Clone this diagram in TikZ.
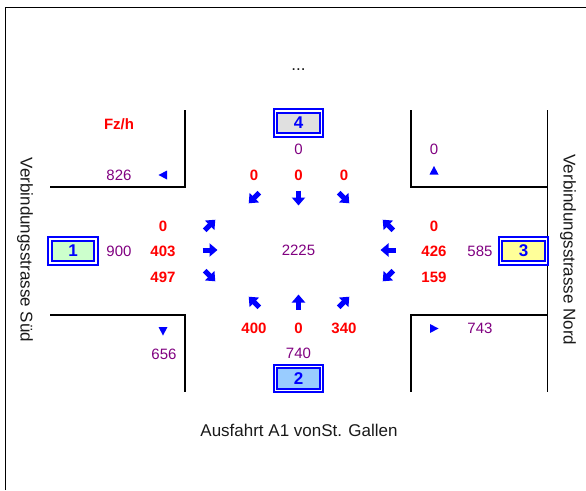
\documentclass[tikz,border=0pt]{standalone}
\usepackage{fontspec}
\setmainfont{Liberation Sans}
\usetikzlibrary{arrows.meta}

\definecolor{volume}{RGB}{128,0,128}
\definecolor{armgray}{RGB}{224,224,224}
\definecolor{armblue}{RGB}{153,204,255}
\definecolor{armgreen}{RGB}{204,255,204}
\definecolor{armyellow}{RGB}{255,255,153}

\begin{document}
\begin{tikzpicture}[x=1pt,y=-1pt,
  every node/.style={font=\fontsize{15}{18}\selectfont, inner sep=0pt},
  flow/.style={text=red, font=\fontsize{15}{18}\selectfont\bfseries},
  total/.style={text=volume},
  street/.style={text=black!90, font=\fontsize{17}{20}\selectfont},
  arm/.style={draw=blue, double=white, line width=2pt, double distance=1.5pt,
    minimum width=46pt, minimum height=24pt, text=blue,
    font=\fontsize{17}{20}\selectfont\bfseries},
  kerb/.style={line width=2pt},
  turn/.style={blue, line width=5pt, -{Triangle[length=8pt,width=13pt]}}]

  \useasboundingbox (0,0) rectangle (586,490);

  % Frame
  \draw[line width=1pt] (5.5,490) -- (5.5,7.5) -- (586,7.5);

  % Kerbs of the crossing
  \draw[kerb] (50,187) -- (185,187) -- (185,110);
  \draw[kerb] (547,187) -- (411,187) -- (411,110);
  \draw[kerb] (50,315) -- (185,315) -- (185,392);
  \draw[kerb] (547,315) -- (411,315) -- (411,392);
  \draw[line width=1pt] (547,110) -- (547,392);

  % Arms
  \node[arm, fill=armgray] (arm4) at (298.5,123) {4};
  \node[arm, fill=armblue] (arm2) at (298.5,378.5) {2};
  \node[arm, fill=armgreen] (arm1) at (73,251) {1};
  \node[arm, fill=armyellow] (arm3) at (523.5,251) {3};

  % Street names
  \node[street, rotate=-90] (sued) at (25,250) {Verbindungsstrasse Süd};
  \node[street, rotate=-90] (nord) at (568,250) {Verbindungsstrasse Nord};
  \node[street] (ausfahrt) at (299,430) {Ausfahrt A1 vonSt. Gallen};
  \node[street] (dots) at (298.5,70) {...};
  \node[flow] (unit) at (119,124) {Fz/h};

  % Arm volumes
  \node[total] (in4) at (298.5,149) {0};
  \node[total] (in2) at (298.5,353) {740};
  \node[total] (in1) at (119,251) {900};
  \node[total] (in3) at (480,251) {585};
  \node[total] (out1) at (119,175) {826};
  \node[total] (out4) at (434,149) {0};
  \node[total] (out2) at (164,354) {656};
  \node[total] (out3) at (480,328) {743};
  \node[total] (sum) at (298.5,250) {2225};

  % Turning flows
  \node[flow] (t4r) at (254,175) {0};
  \node[flow] (t4s) at (298.5,175) {0};
  \node[flow] (t4l) at (344,175) {0};
  \node[flow] (t2l) at (254,328) {400};
  \node[flow] (t2s) at (298.5,328) {0};
  \node[flow] (t2r) at (344,328) {340};
  \node[flow] (t1l) at (163,226) {0};
  \node[flow] (t1s) at (163,251) {403};
  \node[flow] (t1r) at (163,277) {497};
  \node[flow] (t3r) at (434,226) {0};
  \node[flow] (t3s) at (434,251) {426};
  \node[flow] (t3l) at (434,277) {159};

  % Turning arrows
  \foreach \x/\y/\a in {254/198/-135, 298.5/198/-90, 344/198/-45,
                        210/225/45, 210/250/0, 210/276/-45,
                        388/225/135, 388/250/180, 388/276/-135,
                        254/302/135, 298.5/302/90, 344/302/45}
    \draw[turn, shift={(\x,\y)}, rotate=\a] (-7.5,0) -- (7.5,0);

  % Direction marks of the outgoing volumes
  \foreach \x/\y/\a in {163/175/180, 434/170.5/90, 163/331/-90, 434/328.5/0}
    \fill[blue, shift={(\x,\y)}, rotate=\a] (4.5,0) -- (-4,4.5) -- (-4,-4.5) -- cycle;

\end{tikzpicture}
\end{document}
